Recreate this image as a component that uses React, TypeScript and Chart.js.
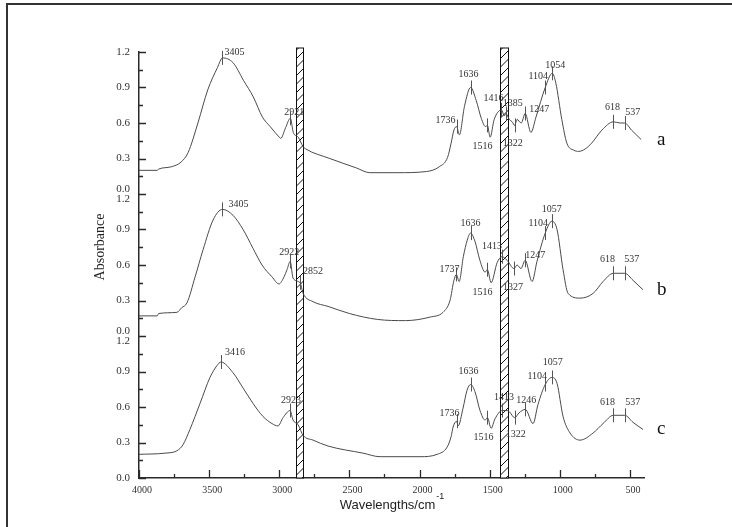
import { useEffect, useRef } from 'react';
import { Chart, registerables } from 'chart.js';

Chart.register(...registerables);

// ---- data (wavenumber cm^-1, absorbance within each panel) ----
const SPECTRUM_A: [number, number][] = [
  [4000, 0.20], [3870, 0.20], [3860, 0.21], [3770, 0.23], [3700, 0.27], [3650, 0.35], [3580, 0.60],
  [3510, 0.88], [3440, 1.07], [3405, 1.15], [3330, 1.11], [3255, 0.96], [3185, 0.82], [3120, 0.65],
  [3065, 0.57], [3000, 0.48], [2990, 0.47], [2955, 0.56], [2921, 0.64], [2900, 0.52], [2865, 0.48],
  [2830, 0.40], [2810, 0.38], [2640, 0.30], [2450, 0.22], [2355, 0.18], [2160, 0.18], [1950, 0.19],
  [1860, 0.23], [1800, 0.31], [1775, 0.43], [1755, 0.54], [1736, 0.57], [1716, 0.50], [1680, 0.74],
  [1636, 0.90], [1596, 0.79], [1560, 0.64], [1530, 0.57], [1516, 0.58], [1497, 0.48], [1468, 0.63],
  [1416, 0.71], [1395, 0.66], [1385, 0.68], [1360, 0.63], [1340, 0.61], [1322, 0.58], [1305, 0.63],
  [1275, 0.60], [1247, 0.68], [1206, 0.52], [1170, 0.65], [1104, 0.90], [1054, 1.02], [1029, 0.94],
  [986, 0.63], [950, 0.43], [900, 0.37], [865, 0.36], [820, 0.38], [773, 0.43], [700, 0.54],
  [618, 0.61], [570, 0.60], [537, 0.60], [489, 0.54], [420, 0.46],
];
const SPECTRUM_B: [number, number][] = [
  [4000, 0.17], [3870, 0.17], [3860, 0.19], [3730, 0.20], [3695, 0.24], [3658, 0.28], [3600, 0.50],
  [3543, 0.73], [3472, 0.98], [3405, 1.07], [3330, 1.02], [3258, 0.90], [3187, 0.74], [3123, 0.60],
  [3052, 0.50], [3002, 0.44], [2966, 0.50], [2945, 0.56], [2922, 0.63], [2902, 0.49], [2852, 0.45],
  [2830, 0.36], [2759, 0.29], [2652, 0.25], [2500, 0.19], [2300, 0.14], [2100, 0.13], [1925, 0.16],
  [1833, 0.20], [1783, 0.30], [1755, 0.47], [1737, 0.52], [1718, 0.46], [1688, 0.67], [1660, 0.81],
  [1636, 0.87], [1605, 0.80], [1570, 0.64], [1533, 0.54], [1516, 0.56], [1490, 0.45], [1447, 0.62],
  [1413, 0.67], [1376, 0.64], [1327, 0.57], [1305, 0.60], [1277, 0.57], [1247, 0.64], [1198, 0.46],
  [1163, 0.63], [1104, 0.87], [1057, 0.97], [1020, 0.90], [977, 0.56], [941, 0.36], [856, 0.32],
  [763, 0.36], [692, 0.46], [618, 0.53], [537, 0.53], [478, 0.47], [407, 0.39],
];
const SPECTRUM_C: [number, number][] = [
  [4000, 0.20], [3815, 0.21], [3730, 0.23], [3687, 0.28], [3637, 0.41], [3565, 0.63], [3494, 0.85],
  [3444, 0.95], [3416, 0.98], [3330, 0.89], [3258, 0.76], [3187, 0.63], [3116, 0.52], [3052, 0.46],
  [3009, 0.44], [2973, 0.51], [2923, 0.57], [2902, 0.49], [2866, 0.45], [2830, 0.36], [2759, 0.32],
  [2652, 0.27], [2403, 0.21], [2282, 0.18], [1997, 0.18], [1875, 0.20], [1804, 0.26], [1775, 0.35],
  [1761, 0.43], [1736, 0.48], [1725, 0.44], [1690, 0.59], [1662, 0.74], [1636, 0.79], [1605, 0.73],
  [1569, 0.57], [1533, 0.49], [1516, 0.51], [1490, 0.42], [1462, 0.50], [1413, 0.57], [1376, 0.57],
  [1360, 0.56], [1322, 0.51], [1291, 0.55], [1246, 0.58], [1191, 0.46], [1156, 0.62], [1104, 0.79],
  [1057, 0.85], [1020, 0.80], [977, 0.52], [927, 0.38], [856, 0.32], [763, 0.38], [692, 0.46],
  [618, 0.53], [537, 0.53], [478, 0.47], [407, 0.41],
];

const PANEL_NAMES = ['a', 'b', 'c'];
const PANEL_SHIFT = [2.4, 1.2, 0];        // vertical stacking of the three spectra
const PANEL_RANGE = 1.2;

const PEAKS_A = [3405, 2921, 1736, 1636, 1516, 1416, 1385, 1322, 1247, 1104, 1054, 618, 537];
const PEAKS_B = [3405, 2922, 2852, 1737, 1636, 1516, 1413, 1327, 1247, 1104, 1057, 618, 537];
const PEAKS_C = [3416, 2923, 1736, 1636, 1516, 1413, 1322, 1246, 1104, 1057, 618, 537];

// label placement relative to each peak (px)
const LABEL_POS_A = [[12, -6], [4, -6], [-11, -6], [-2, -13], [-5, 21], [-8, -12], [7, -10], [-2, 18], [14, -4], [-7, -11], [3, -8], [-1, -14], [8, -11]];
const LABEL_POS_B = [[16, -5], [-1, -9], [13, -11], [-7, -5], [0, -10], [-5, 23], [-10, -10], [-1, 19], [10, -5], [-7, -10], [0, -12], [-6, -14], [7, -14]];
const LABEL_POS_C = [[14, -10], [1, -10], [-7, -8], [-2, -13], [-4, 20], [2, -13], [1, 17], [1, -9], [-8, -8], [1, -15], [-6, -13], [8, -13]];

const HATCH_BANDS: [number, number][] = [[2880, 2830], [1426, 1371]];

const X_MIN = 400;
const X_MAX = 4000;
const X_MAJOR = 500;
const X_MINOR = 250;
const Y_MAJOR = 0.3;
const Y_MINOR = 0.15;

const SPECTRA = [SPECTRUM_A, SPECTRUM_B, SPECTRUM_C];
const PEAKS = [PEAKS_A, PEAKS_B, PEAKS_C];
const LABEL_POS = [LABEL_POS_A, LABEL_POS_B, LABEL_POS_C];

const SERIF = '"Liberation Serif", "Times New Roman", serif';
const SANS = '"Liberation Sans", Arial, sans-serif';
const INK = '#2a2a2a';
const CURVE = '#4a4a4a';

function interp(pts: { x: number; y: number }[], wn: number): number {
  for (let i = 0; i < pts.length - 1; i++) {
    const a = pts[i], b = pts[i + 1];
    if ((a.x - wn) * (b.x - wn) <= 0) {
      if (a.x === b.x) return a.y;
      return a.y + ((wn - a.x) / (b.x - a.x)) * (b.y - a.y);
    }
  }
  return pts[pts.length - 1].y;
}

const decorPlugin = {
  id: 'decor',
  beforeDatasetsDraw(chart: any) {
    const { ctx, chartArea, scales } = chart;
    const x = scales.x;
    HATCH_BANDS.forEach(([a, b]) => {
      const x1 = x.getPixelForValue(a), x2 = x.getPixelForValue(b);
      const l = Math.round(Math.min(x1, x2)) + 0.5, r = Math.round(Math.max(x1, x2)) + 0.5;
      const top = chartArea.top - 4, bot = chartArea.bottom;
      const w = r - l;
      ctx.save();
      ctx.fillStyle = '#fff';
      ctx.fillRect(l, top, w, bot - top);
      ctx.beginPath();
      ctx.rect(l, top, w, bot - top);
      ctx.clip();
      ctx.strokeStyle = '#111';
      ctx.lineWidth = 1;
      ctx.beginPath();
      for (let yy = top + 2; yy < bot + w + 9; yy += 8.5) {
        ctx.moveTo(l, yy);
        ctx.lineTo(r, yy - w);
      }
      ctx.stroke();
      ctx.restore();
      ctx.save();
      ctx.strokeStyle = '#111';
      ctx.lineWidth = 1;
      ctx.strokeRect(l, top, w, bot - top);
      ctx.restore();
    });
  },
  afterDraw(chart: any) {
    const { ctx, chartArea, scales } = chart;
    const x = scales.x, y = scales.y;
    ctx.save();
    // inward tick marks
    ctx.strokeStyle = INK;
    ctx.lineWidth = 1.3;
    ctx.beginPath();
    for (let w = X_MAJOR; w <= X_MAX; w += X_MINOR) {
      const px = Math.round(x.getPixelForValue(w)) + 0.5;
      const len = w % X_MAJOR === 0 ? 8 : 4;
      ctx.moveTo(px, chartArea.bottom);
      ctx.lineTo(px, chartArea.bottom - len);
    }
    const nY = Math.round((PANEL_RANGE * 3) / Y_MINOR);
    for (let k = 0; k <= nY; k++) {
      const py = Math.round(y.getPixelForValue(k * Y_MINOR)) + 0.5;
      const len = k % 2 === 0 ? 7 : 4;
      ctx.moveTo(chartArea.left, py);
      ctx.lineTo(chartArea.left + len, py);
    }
    ctx.stroke();

    // peak markers and labels
    ctx.font = `10px ${SERIF}`;
    ctx.fillStyle = '#333';
    ctx.textAlign = 'center';
    ctx.textBaseline = 'middle';
    chart.data.datasets.forEach((ds: any, i: number) => {
      PEAKS[i].forEach((wn, j) => {
        const px = x.getPixelForValue(wn);
        const py = y.getPixelForValue(interp(ds.data, wn));
        ctx.strokeStyle = '#555';
        ctx.lineWidth = 1;
        ctx.beginPath();
        ctx.moveTo(Math.round(px) + 0.5, py - 7);
        ctx.lineTo(Math.round(px) + 0.5, py + 7);
        ctx.stroke();
        const [dx, dy] = LABEL_POS[i][j];
        ctx.fillText(String(wn), px + dx, py + dy);
      });
      // panel letter at the end of each curve
      const last = ds.data[ds.data.length - 1];
      ctx.save();
      ctx.font = `19px ${SERIF}`;
      ctx.fillStyle = '#111';
      ctx.textAlign = 'left';
      ctx.fillText(PANEL_NAMES[i], chartArea.right + 13, y.getPixelForValue(last.y));
      ctx.restore();
    });

    // y title
    ctx.save();
    ctx.translate(chartArea.left - 39, chartArea.top + 195);
    ctx.rotate(-Math.PI / 2);
    ctx.font = `14px ${SERIF}`;
    ctx.fillStyle = '#222';
    ctx.textAlign = 'center';
    ctx.textBaseline = 'middle';
    ctx.fillText('Absorbance', 0, 0);
    ctx.restore();

    // x title with superscript
    const main = 'Wavelengths/cm';
    const sup = '-1';
    ctx.font = `13px ${SANS}`;
    const wMain = ctx.measureText(main).width;
    ctx.font = `9px ${SANS}`;
    const wSup = ctx.measureText(sup).width;
    const cx = (chartArea.left + chartArea.right) / 2;
    const start = cx - (wMain + wSup) / 2;
    const ty = chartArea.bottom + 27;
    ctx.fillStyle = '#222';
    ctx.textAlign = 'left';
    ctx.textBaseline = 'middle';
    ctx.font = `13px ${SANS}`;
    ctx.fillText(main, start, ty);
    ctx.font = `9px ${SANS}`;
    ctx.fillText(sup, start + wMain + 1, ty - 8);
    ctx.restore();
  },
};

export default function App() {
  const ref = useRef<HTMLCanvasElement>(null);

  useEffect(() => {
    if (!ref.current) return;
    const datasets = SPECTRA.map((s, i) => ({
      label: PANEL_NAMES[i],
      data: s.map(([w, v]) => ({ x: w, y: v + PANEL_SHIFT[i] })),
      borderColor: CURVE,
      borderWidth: 1,
      pointRadius: 0,
      cubicInterpolationMode: 'monotone',
      fill: false,
    }));
    const chart = new Chart(ref.current, {
      type: 'line',
      data: { datasets },
      options: {
        animation: false,
        responsive: false,
        maintainAspectRatio: false,
        layout: { padding: { top: 52, right: 88, left: 0, bottom: 0 } },
        plugins: { legend: { display: false }, tooltip: { enabled: false } },
        scales: {
          x: {
            type: 'linear',
            min: X_MIN,
            max: X_MAX,
            reverse: true,
            grid: { display: false, drawTicks: false, tickLength: 0 },
            border: { display: true, color: INK, width: 1.5 },
            afterBuildTicks: (s: any) => {
              const t = [];
              for (let w = X_MAJOR; w <= X_MAX; w += X_MAJOR) t.push({ value: w });
              s.ticks = t;
            },
            afterFit: (s: any) => { s.height = 49; },
            ticks: {
              color: '#333',
              font: { family: SERIF, size: 10 },
              padding: 6,
              labelOffset: 3,
              maxRotation: 0,
              callback: (v: any) => String(v),
            },
          },
          y: {
            type: 'linear',
            min: 0,
            max: PANEL_RANGE * 3,
            grid: { display: false, drawTicks: false, tickLength: 0 },
            border: { display: true, color: INK, width: 1.5 },
            afterBuildTicks: (s: any) => {
              const t = [];
              const n = Math.round((PANEL_RANGE * 3) / Y_MAJOR);
              for (let k = 0; k <= n; k++) t.push({ value: +(k * Y_MAJOR).toFixed(2) });
              s.ticks = t;
            },
            afterFit: (s: any) => { s.width = 139; },
            ticks: {
              color: '#333',
              font: { family: SERIF, size: 11, lineHeight: 0.85 },
              padding: 9,
              callback: (v: any) => {
                const k = Math.round(v / Y_MAJOR);
                const per = Math.round(PANEL_RANGE / Y_MAJOR);
                if (k === 0) return '0.0';
                if (k === per * 3) return PANEL_RANGE.toFixed(1);
                if (k % per === 0) return ['0.0', PANEL_RANGE.toFixed(1)];
                return ((k % per) * Y_MAJOR).toFixed(1);
              },
            },
          },
        },
      },
      plugins: [decorPlugin],
    } as any);
    return () => chart.destroy();
  }, []);

  return (
    <div style={{ position: 'absolute', left: 0, top: 0, width: 732, height: 527, overflow: 'hidden', background: '#fff' }}>
      <div style={{ position: 'absolute', left: 6, top: 3, width: 2000, height: 2000, borderTop: '2px solid #333', borderLeft: '2px solid #333' }} />
      <canvas ref={ref} width={732} height={527} style={{ position: 'absolute', left: 0, top: 0, width: 732, height: 527 }} />
    </div>
  );
}
